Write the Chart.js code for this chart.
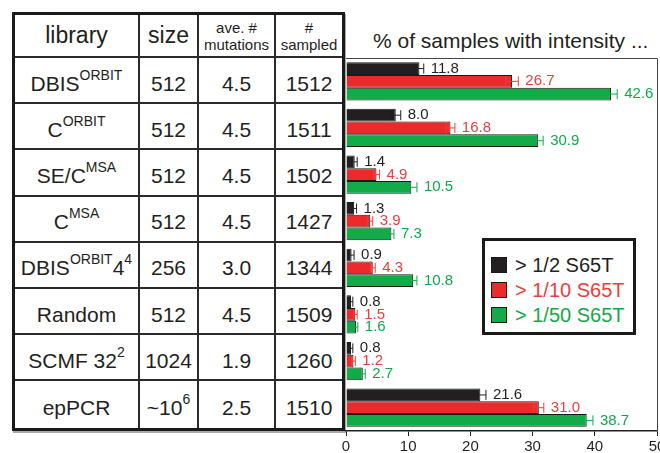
<!DOCTYPE html>
<html>
<head>
<meta charset="utf-8">
<script src="https://cdn.jsdelivr.net/npm/chart.js@4.4.0/dist/chart.umd.min.js"></script>
<style>
  html, body { margin: 0; padding: 0; background: #fff; }
  body { position: relative; width: 660px; height: 453px; overflow: hidden;
         font-family: "Liberation Sans", Arial, Helvetica, sans-serif; color: #231f20; }
  #table { position: absolute; left: 12px; top: 12px; width: 333px; height: 418.6px;
           box-sizing: border-box; border: 3px solid #1a1a1a; box-shadow: 1px 2px 0 #aaa;
           display: grid; grid-template-columns: 125px 59px 77px 66px;
           grid-template-rows: 43px repeat(8, 46.2px); background: #fff; }
  #table div { display: flex; align-items: center; justify-content: center; text-align: center;
               box-sizing: border-box; border-right: 2px solid #2a2a2a; border-bottom: 2px solid #2a2a2a;
               font-size: 21px; padding-top: 7px; white-space: nowrap; }
  #table div.last { border-right: none; }
  #table div.bottom { border-bottom: none; }
  #table div.head { padding-top: 0; font-size: 23px; }
  #table div.small { font-size: 15px; line-height: 17px; padding-top: 0; }
  #table sup { font-size: 14px; vertical-align: baseline; position: relative; top: -9px; }
  #title { position: absolute; left: 373px; top: 29px; font-size: 21px; white-space: nowrap; }
  #wrap { position: absolute; left: 330px; top: 0; width: 350px; height: 458px; }
  #legend { position: absolute; left: 482px; top: 238px; width: 154px; height: 97px;
            box-sizing: border-box; border: 3px solid #1a1a1a; background: #fff; }
  #legend .item { position: absolute; left: 6px; height: 16px; font-size: 20px; white-space: nowrap; }
  #legend .sw { position: absolute; left: 0; top: 0; width: 16px; height: 16px; box-sizing: border-box;
                border: 1px solid #1a1a1a; }
  #legend .tx { position: absolute; left: 24px; top: -4px; line-height: 24px; }
</style>
</head>
<body>
<div id="table"></div>
<div id="title">% of samples with intensity ...</div>
<div id="wrap"><canvas id="chart" width="350" height="458"></canvas></div>
<div id="legend"></div>
<script>
// table columns
const headers = ['library', 'size', 'ave. #<br>mutations', '#<br>sampled'];
const libraries = ['DBIS<sup>ORBIT</sup>', 'C<sup>ORBIT</sup>', 'SE/C<sup>MSA</sup>', 'C<sup>MSA</sup>',
                   'DBIS<sup>ORBIT</sup>4<sup>4</sup>', 'Random', 'SCMF 32<sup>2</sup>', 'epPCR'];
const sizes = ['512', '512', '512', '512', '256', '512', '1024', '~10<sup>6</sup>'];
const mutations = ['4.5', '4.5', '4.5', '4.5', '3.0', '4.5', '1.9', '2.5'];
const sampled = ['1512', '1511', '1502', '1427', '1344', '1509', '1260', '1510'];

// bar series (% of samples)
const categories = ['DBIS ORBIT', 'C ORBIT', 'SE/C MSA', 'C MSA', 'DBIS ORBIT 4^4', 'Random', 'SCMF 32^2', 'epPCR'];
const seriesNames = ['> 1/2 S65T', '> 1/10 S65T', '> 1/50 S65T'];
const half = [11.8, 8.0, 1.4, 1.3, 0.9, 0.8, 0.8, 21.6];
const tenth = [26.7, 16.8, 4.9, 3.9, 4.3, 1.5, 1.2, 31.0];
const fiftieth = [42.6, 30.9, 10.5, 7.3, 10.8, 1.6, 2.7, 38.7];
const halfErr = [0.7, 0.8, 0.4, 0.4, 0.4, 0.3, 0.3, 0.9];
const tenthErr = [1.0, 0.7, 0.5, 0.4, 0.4, 0.3, 0.3, 0.8];
const fiftiethErr = [1.0, 0.8, 0.9, 0.4, 0.6, 0.3, 0.4, 1.0];
const xTicks = [0, 10, 20, 30, 40, 50];

const barColors = ['#231f20', '#ed2a2b', '#13ab4a'];
const textColors = ['#231f20', '#ef3d3b', '#12a84a'];

// build the table
const tableEl = document.getElementById('table');
const columns = [libraries, sizes, mutations, sampled];
headers.forEach(function(h, c) {
    const d = document.createElement('div');
    d.innerHTML = h;
    d.className = (c < 2 ? 'head' : 'small') + (c === 3 ? ' last' : '');
    tableEl.appendChild(d);
});
libraries.forEach(function(_, r) {
    columns.forEach(function(col, c) {
        const d = document.createElement('div');
        d.innerHTML = col[r];
        let cls = [];
        if (c === 3) cls.push('last');
        if (r === libraries.length - 1) cls.push('bottom');
        d.className = cls.join(' ');
        tableEl.appendChild(d);
    });
});

// legend
const legendEl = document.getElementById('legend');
seriesNames.forEach(function(name, i) {
    const it = document.createElement('div');
    it.className = 'item';
    it.style.top = (16 + i * 25) + 'px';
    it.innerHTML = '<span class="sw" style="background:' + barColors[i] + '"></span>' +
                   '<span class="tx" style="color:' + textColors[i] + '">' + name + '</span>';
    legendEl.appendChild(it);
});

// error bars + value labels
const errorBars = {
    id: 'errorBars',
    afterDatasetsDraw(chart) {
        const ctx = chart.ctx;
        const xs = chart.scales.x;
        chart.data.datasets.forEach(function(ds, i) {
            const meta = chart.getDatasetMeta(i);
            meta.data.forEach(function(bar, j) {
                const v = ds.data[j], e = ds.errors[j];
                const x0 = xs.getPixelForValue(v - e), x1 = xs.getPixelForValue(v + e);
                const y = bar.y, h = 5;
                ctx.save();
                ctx.strokeStyle = textColors[i];
                ctx.lineWidth = 1;
                ctx.beginPath();
                ctx.moveTo(x0, y); ctx.lineTo(x1, y);
                ctx.moveTo(x0, y - h); ctx.lineTo(x0, y + h);
                ctx.moveTo(x1, y - h); ctx.lineTo(x1, y + h);
                ctx.stroke();
                ctx.fillStyle = textColors[i];
                ctx.font = '15px "Liberation Sans", Arial, sans-serif';
                ctx.textBaseline = 'middle';
                ctx.fillText(v.toFixed(1), x1 + 7, y);
                ctx.restore();
            });
        });
    }
};

// top/right frame of plot
const frame = {
    id: 'frame',
    afterDraw(chart) {
        const a = chart.chartArea, ctx = chart.ctx;
        ctx.save();
        ctx.strokeStyle = '#444';
        ctx.lineWidth = 1;
        ctx.beginPath();
        ctx.moveTo(a.left, a.top + 0.5);
        ctx.lineTo(a.right + 0.5, a.top + 0.5);
        ctx.lineTo(a.right + 0.5, a.bottom);
        ctx.stroke();
        ctx.restore();
    }
};

new Chart(document.getElementById('chart').getContext('2d'), {
    type: 'bar',
    data: {
        labels: categories,
        datasets: [
            { label: seriesNames[0], data: half, errors: halfErr },
            { label: seriesNames[1], data: tenth, errors: tenthErr },
            { label: seriesNames[2], data: fiftieth, errors: fiftiethErr }
        ].map(function(ds, i) {
            return Object.assign(ds, {
                backgroundColor: barColors[i],
                borderColor: '#1a1a1a',
                borderWidth: 1,
                barPercentage: 1.0,
                categoryPercentage: 0.82
            });
        })
    },
    options: {
        indexAxis: 'y',
        responsive: false,
        animation: false,
        maintainAspectRatio: false,
        layout: { padding: { left: 16, right: 23, top: 58, bottom: 0 } },
        plugins: { legend: { display: false }, tooltip: { enabled: false } },
        scales: {
            y: { display: false },
            x: {
                min: 0, max: 50,
                afterBuildTicks: function(axis) { axis.ticks = xTicks.map(function(v) { return { value: v }; }); },
                grid: { drawOnChartArea: false, tickLength: 5, color: '#231f20' },
                border: { color: '#231f20', width: 1.5 },
                ticks: { padding: 2, color: '#231f20', font: { size: 15, family: '"Liberation Sans", Arial, sans-serif' } }
            }
        }
    },
    plugins: [errorBars, frame]
});
</script>
</body>
</html>
